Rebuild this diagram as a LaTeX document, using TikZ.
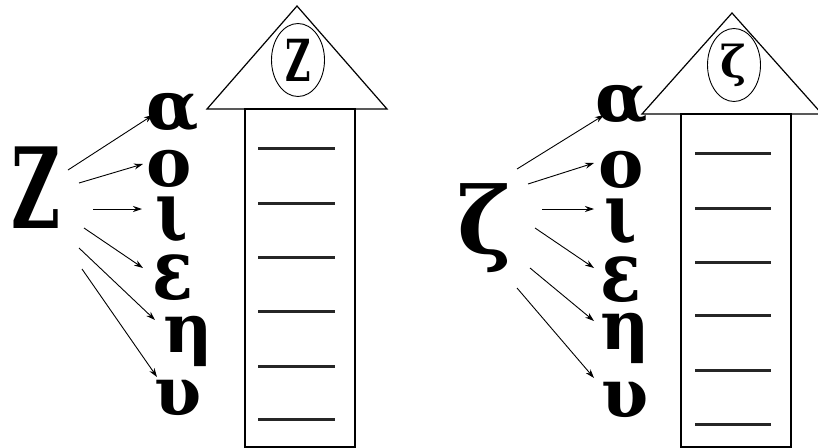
\documentclass[tikz,border=0pt]{standalone}
\usepackage{fontspec}
\setmainfont{DejaVu Serif}
\newfontfamily\narrowfont[FakeStretch=0.6]{DejaVu Serif}
\newfontfamily\slimfont[FakeStretch=0.8]{DejaVu Serif}
\usetikzlibrary{positioning,arrows.meta,shapes.geometric}
\tikzset{
  >={Stealth[length=9pt,width=6pt]},
  house/.style={draw, line width=1.2pt},
  badge/.style={draw, ellipse, line width=0.9pt, inner sep=0pt,
                minimum width=53pt, minimum height=73pt},
  lt/.style={inner sep=0pt, font=\fontsize{68}{68}\bfseries\selectfont},
  tall/.style={inner sep=0pt, font=\fontsize{84}{84}\slimfont\bfseries\selectfont},
  bigl/.style={inner sep=0pt, font=\fontsize{110}{110}\bfseries\selectfont},
  blank/.style={line width=3pt, draw=black!85},
  l/.style={->, line width=0.9pt},
}
\begin{document}
\begin{tikzpicture}[x=1pt,y=-1pt]
  \useasboundingbox (0,0) rectangle (818,447);
  % left house: capital letter
  \draw[house] (207,109) -- (297,6) -- (387,109) -- cycle;
  \draw[house] (245,109) rectangle (355,447);
  \node[badge,font=\fontsize{58}{58}\narrowfont\bfseries\selectfont](hz) at (298,60){Ζ};
  \foreach \y in {148,203,257,311,366,419} \draw[blank] (258,\y) -- (335,\y);
  \node[bigl,font=\fontsize{112}{112}\narrowfont\bfseries\selectfont](cz) at (36,188){Ζ};
  \node[lt](la1) at (173,113){α};
  \node[lt](lo1) at (169,169){ο};
  \node[tall](li1) at (172,220){ι};
  \node[tall](le1) at (173,278){ε};
  \node[lt](lh1) at (188,341){η};
  \node[lt](lu1) at (178,398){υ};
  \foreach \a/\b/\t/\c/\d in {32/-18/la1/-20/2, 43/-5/lo1/-26/-5, 57/21/li1/-30/-11,
                              48/40/le1/-30/-10, 43/60/lh1/-33/-21, 46/81/lu1/-21/-21}
    \draw[l] ([shift={(\a,\b)}]cz.center) -- ([shift={(\c,\d)}]\t.center);
  % right house: small letter
  \draw[house] (642,114) -- (732,13) -- (822,114) -- cycle;
  \draw[house] (681,114) rectangle (791,447);
  \node[badge,font=\fontsize{44}{44}\bfseries\selectfont](hs) at (734,65){ζ};
  \foreach \y in {153,208,262,315,370,424} \draw[blank] (695,\y) -- (771,\y);
  \node[bigl,font=\fontsize{92}{92}\bfseries\selectfont](cs) at (485,228){ζ};
  \node[lt](la2) at (622,105){α};
  \node[lt](lo2) at (621,170){ο};
  \node[tall](li2) at (621,222){ι};
  \node[tall](le2) at (621,280){ε};
  \node[lt](lh2) at (625,338){η};
  \node[lt](lu2) at (625,400){υ};
  \foreach \a/\b/\t/\c/\d in {32/-59/la2/-18/10, 43/-44/lo2/-27/-7, 57/-19/li2/-27/-13,
                              50/0/le2/-27/-12, 45/40/lh2/-31/-17, 32/60/lu2/-31/-22}
    \draw[l] ([shift={(\a,\b)}]cs.center) -- ([shift={(\c,\d)}]\t.center);
\end{tikzpicture}
\end{document}
